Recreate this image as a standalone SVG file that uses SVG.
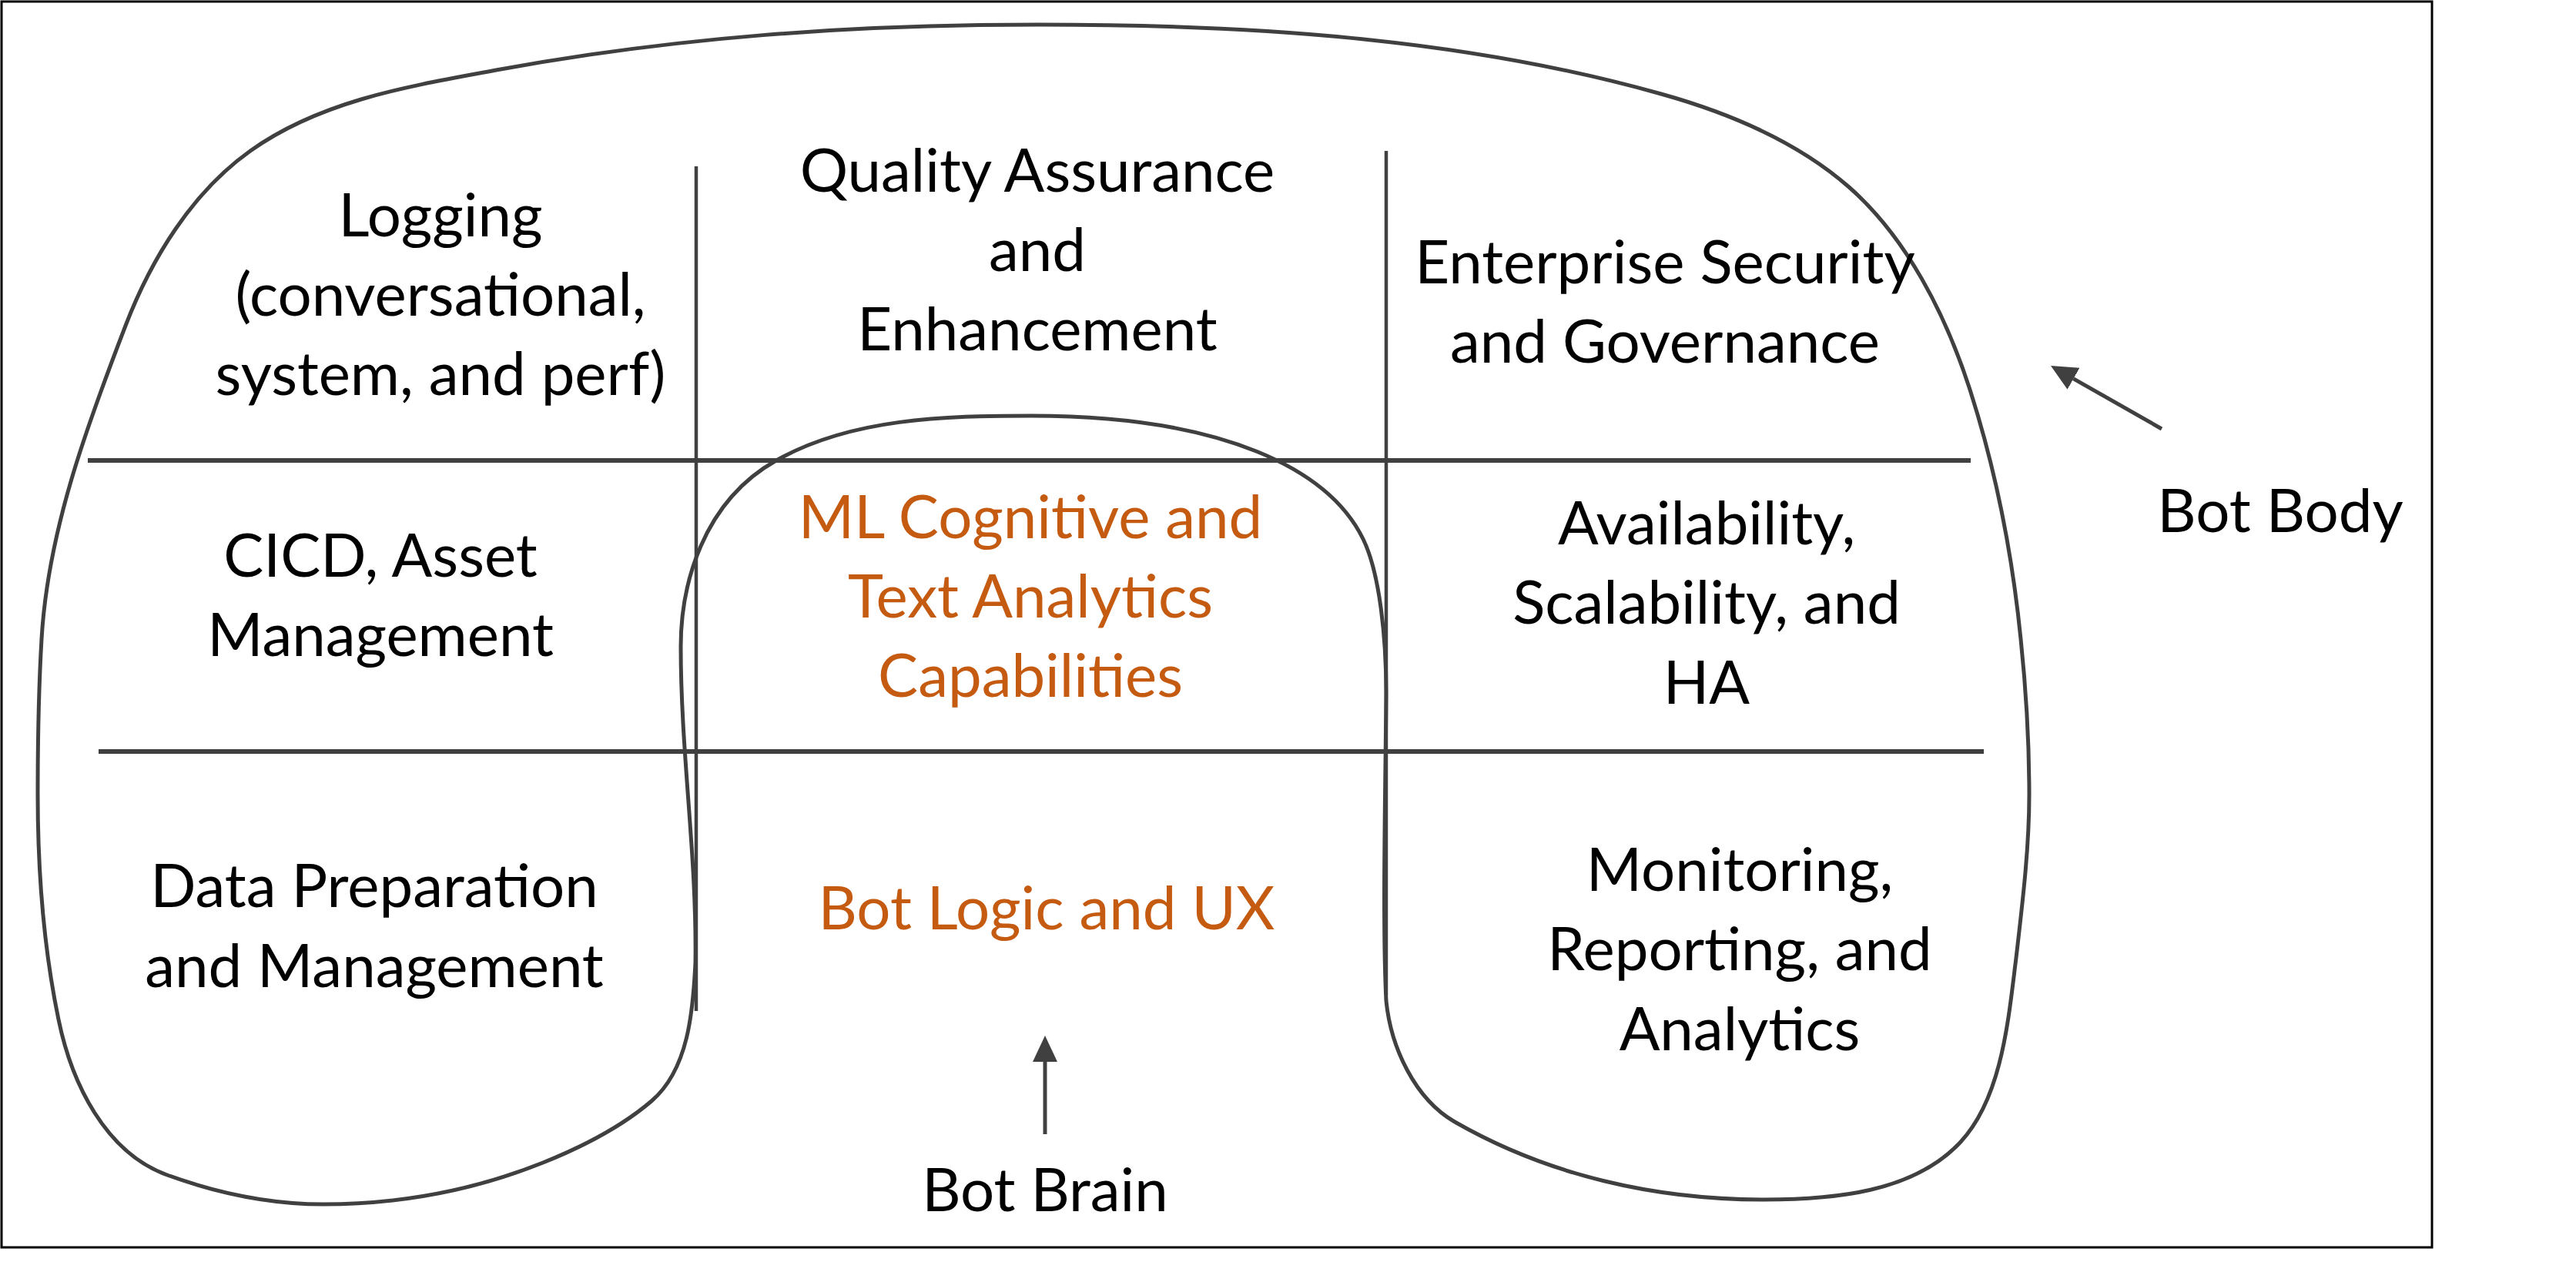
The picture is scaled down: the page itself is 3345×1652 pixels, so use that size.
<svg xmlns="http://www.w3.org/2000/svg" width="3345" height="1652" viewBox="0 0 3345 1652">
<style>
.t{font-family:Lato,"Open Sans","Liberation Sans",sans-serif;font-size:78px;fill:#000;text-anchor:middle}
.o{fill:#C55A11}
.g{stroke:#404040;fill:none}
.h{stroke-width:6}
.v{stroke-width:4.5}
.s{stroke-width:5;stroke-linejoin:round}
.a{stroke:#404040;stroke-width:5;fill:none;marker-end:url(#ah)}
</style>
<defs>
<marker id="ah" markerUnits="userSpaceOnUse" markerWidth="34" markerHeight="32" refX="0" refY="16" orient="auto" viewBox="0 0 34 32">
<path d="M0,0 L34,16 L0,32 z" fill="#404040"/>
</marker>
</defs>
<rect width="3345" height="1652" fill="#fff"/>
<rect id="frame" x="2" y="2" width="3156" height="1618" fill="none" stroke="#000" stroke-width="3"/>
<g id="body-shape">
<path class="g s" d="M1339,540 C1589,540 1726,610 1770,700 C1792,745 1800,830 1800,900 C1799,1030 1795,1200 1800,1300 C1806,1360 1837,1427 1889,1457 C2011,1527 2150,1558 2290,1558 C2380,1558 2485,1549 2546,1483 C2600,1425 2608,1323 2618,1244 C2626,1175 2635,1102 2635,1032 C2635,962 2631,897 2624,830 C2613,720 2591,608 2557,503 C2526,408 2476,309 2401,243 C2334,184 2243,146 2157,122 C1898,49 1620,32 1350,32 C1100,32 875,49 650,90 C537,111 419,129 325,196 C249,250 196,337 163,423 C113,553 62,690 54,830 C50,897 49,965 49,1032 C49,1130 56,1228 76,1324 C93,1407 137,1497 217,1526 C283,1550 350,1564 420,1564 C517,1564 615,1546 705,1510 C755,1490 805,1465 846,1430 C894,1389 900,1313 903,1250 C905,1110 884,980 884,840 C884,760 912,652 1008,598 C1105,543 1227,540 1339,540 Z"/>
</g>
<g id="grid-lines">
<line class="g h" x1="114" y1="598" x2="2559" y2="598"/>
<line class="g h" x1="128" y1="976" x2="2576" y2="976"/>
<line class="g v" x1="904" y1="216" x2="904" y2="1313"/>
<line class="g v" x1="1800" y1="196" x2="1800" y2="1292"/>
</g>
<g id="logging"><text class="t" x="572" y="307">Logging</text><text class="t" x="572" y="410">(conversational,</text><text class="t" x="572" y="513">system, and perf)</text></g>
<g id="quality-assurance"><text class="t" x="1347" y="249">Quality Assurance</text><text class="t" x="1347" y="352">and</text><text class="t" x="1347" y="455">Enhancement</text></g>
<g id="enterprise-security"><text class="t" x="2162" y="368">Enterprise Security</text><text class="t" x="2162" y="471">and Governance</text></g>
<g id="cicd"><text class="t" x="494" y="749">CICD, Asset</text><text class="t" x="494" y="852">Management</text></g>
<g id="ml-cognitive"><text class="t o" x="1338" y="699">ML Cognitive and</text><text class="t o" x="1338" y="802">Text Analytics</text><text class="t o" x="1338" y="905">Capabilities</text></g>
<g id="availability"><text class="t" x="2216" y="707">Availability,</text><text class="t" x="2216" y="810">Scalability, and</text><text class="t" x="2216" y="914">HA</text></g>
<g id="data-preparation"><text class="t" x="486" y="1178">Data Preparation</text><text class="t" x="486" y="1282">and Management</text></g>
<g id="bot-logic"><text class="t o" x="1359" y="1207">Bot Logic and UX</text></g>
<g id="monitoring"><text class="t" x="2259" y="1157">Monitoring,</text><text class="t" x="2259" y="1260">Reporting, and</text><text class="t" x="2259" y="1364">Analytics</text></g>
<g id="bot-body"><text class="t" x="2961" y="691">Bot Body</text></g>
<g id="bot-brain"><text class="t" x="1357" y="1573">Bot Brain</text></g>
<g id="connectors">
<line class="a" x1="2807" y1="557" x2="2692.5" y2="491.8"/>
<line class="a" x1="1357" y1="1473" x2="1357" y2="1379"/>
</g>
</svg>
